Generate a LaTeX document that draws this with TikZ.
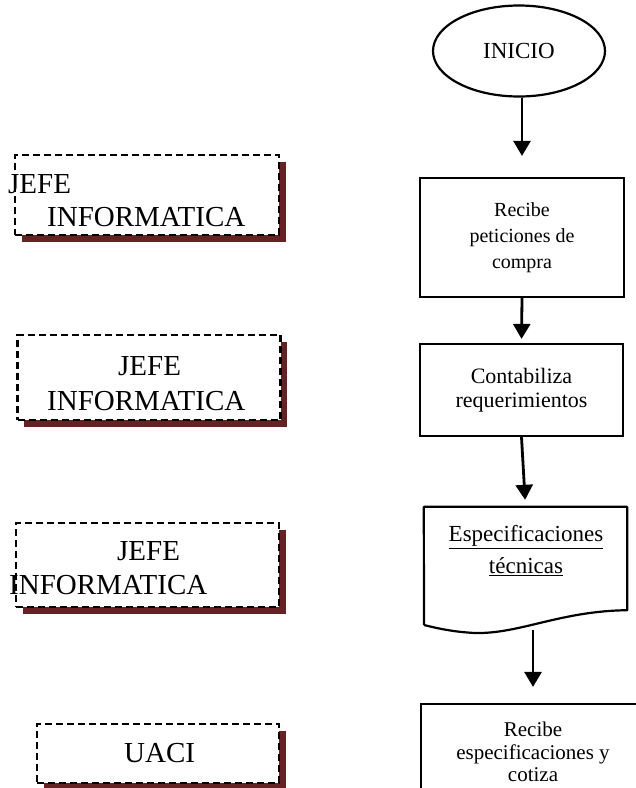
\documentclass[tikz,border=0pt]{standalone}
\usepackage{fontspec}
\setmainfont{Liberation Serif}
\usetikzlibrary{shapes.geometric,arrows.meta,shadows}
\definecolor{shadowred}{RGB}{99,35,35}

\begin{document}
\begin{tikzpicture}[x=1pt,y=-1pt,
    proc/.style={draw,line width=2.2pt,inner sep=0pt,align=center},
    actor/.style={draw,line width=2.2pt,dash pattern=on 7pt off 4pt,fill=white,inner sep=0pt,
        drop shadow={shadow xshift=6.5pt,shadow yshift=-6.5pt,fill=shadowred,opacity=1}},
    lbl/.style={anchor=base west,inner sep=0pt,font=\fontsize{29}{33}\selectfont},
    arr/.style={-{Triangle[length=15pt,width=17pt]},line width=2.8pt}]
            \path[use as bounding box,clip] (0,0) rectangle (636,788);
            \draw (147,195) node[actor,minimum width=264pt,minimum height=80pt](actA){};
            \draw (149,377.5) node[actor,minimum width=263pt,minimum height=85pt](actB){};
            \draw (147.5,565) node[actor,minimum width=263pt,minimum height=84pt](actC){};
            \draw (158,753.5) node[actor,minimum width=242pt,minimum height=59pt](actD){};
            \draw (8,193) node[lbl](jefeA){JEFE};
            \draw (47,226) node[lbl](infA){INFORMATICA};
            \draw (118,375) node[lbl](jefeB){JEFE};
            \draw (47,410) node[lbl](infB){INFORMATICA};
            \draw (117,560) node[lbl](jefeC){JEFE};
            \draw (9,594) node[lbl](infC){INFORMATICA};
            \draw (124,762) node[lbl](uaci){UACI};
            \draw (519,51) node[ellipse,draw,line width=2.2pt,minimum width=172pt,minimum height=91pt,
                font=\fontsize{23}{26}\selectfont](inicio){INICIO};
            \draw (522,237.5) node[proc,minimum width=204pt,minimum height=119pt,
                font=\fontsize{20}{26}\selectfont](recibe){Recibe\\peticiones de\\compra};
            \draw (521.5,390) node[proc,minimum width=203pt,minimum height=92pt,
                font=\fontsize{22}{24}\selectfont](contab){Contabiliza\\requerimientos};
            \draw (525.5,558.5) node[minimum width=203pt,minimum height=103pt,inner sep=0pt](espec){};
            \draw (526,551) node[align=center,inner sep=0pt,
                font=\fontsize{23}{32}\selectfont](especTxt){\underline{Especificaciones}\\\underline{técnicas}};
            \draw[line width=2.2pt,line join=round] (424,625) -- (espec.north west) -- (espec.north east)
                -- (espec.south east) .. controls (560,611) and (520,634) .. (475,633)
                .. controls (455,632) and (440,629) .. (424,625);
            \draw (533,752) node[proc,minimum width=224pt,minimum height=96pt,
                font=\fontsize{21}{22.5}\selectfont](cotiza){Recibe\\especificaciones y\\cotiza};
            \coordinate (docbot) at (533,630);
            \draw[arr,shorten >=21pt] ([xshift=3pt]inicio.south) -- (recibe.north);
            \draw[arr,shorten >=4pt] (recibe.south) -- (contab.north);
            \draw[arr,shorten >=7pt] (contab.south) -- (espec.north);
            \draw[arr,shorten >=16pt] (docbot) -- (cotiza.north);
        \end{tikzpicture}
\end{document}
